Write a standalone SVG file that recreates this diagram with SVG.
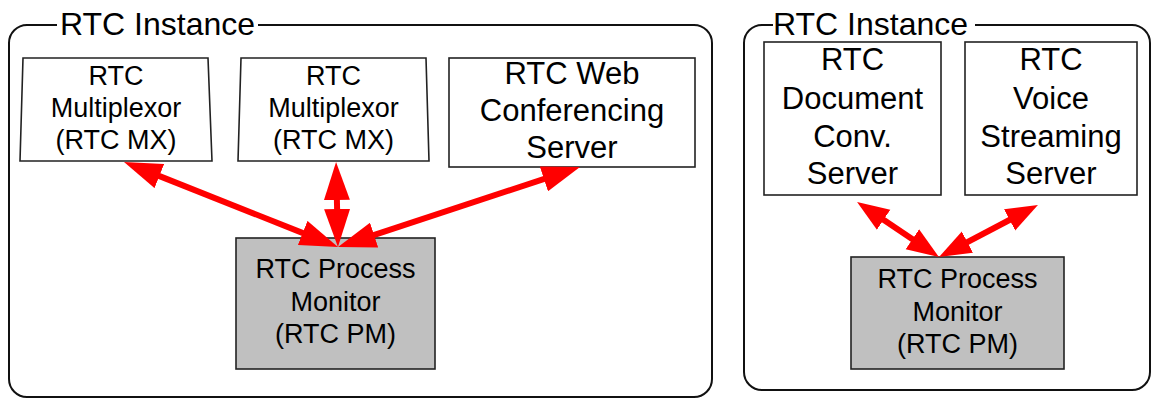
<svg xmlns="http://www.w3.org/2000/svg" width="1152" height="398" viewBox="0 0 1152 398">
<style>
.cont{fill:none;stroke:#111;stroke-width:2}
.box{fill:#fff;stroke:#222;stroke-width:1.6}
.pm{fill:#c0c0c0;stroke:#222;stroke-width:1.6}
.t{font-family:"Liberation Sans",Arial,sans-serif;fill:#000;text-anchor:middle}
.title{font-family:"Liberation Sans",Arial,sans-serif;font-size:32px;fill:#000}
.s27{font-size:27px}
.s31{font-size:31px}
.arr{fill:none;stroke:#ff0000;stroke-width:6}
.a1{marker-start:url(#headL);marker-end:url(#headL)}
.a2{marker-start:url(#headS);marker-end:url(#headS)}
</style>
<defs>
<marker id="headL" markerUnits="userSpaceOnUse" markerWidth="40" markerHeight="26" viewBox="0 0 40 26" refX="18" refY="13" orient="auto-start-reverse"><path d="M0,0 L38,13 L0,26 Z" fill="#ff0000"/></marker>
<marker id="headS" markerUnits="userSpaceOnUse" markerWidth="34" markerHeight="26" viewBox="0 0 34 26" refX="14" refY="13" orient="auto-start-reverse"><path d="M0,1 L32,13 L0,25 Z" fill="#ff0000"/></marker>
</defs>

<g id="instance1">
<path class="cont" d="M57,25 H27 A18,18 0 0 0 9,43 V379 A18,18 0 0 0 27,397 H694 A18,18 0 0 0 712,379 V43 A18,18 0 0 0 694,25 H258"/>
<text class="title" x="60" y="35">RTC Instance</text>
</g>
<g id="instance2">
<path class="cont" d="M773,25 H762 A18,18 0 0 0 744,43 V372 A18,18 0 0 0 762,390 H1132 A18,18 0 0 0 1150,372 V43 A18,18 0 0 0 1132,25 H975"/>
<text class="title" x="773" y="35">RTC Instance</text>
</g>

<g id="mx1">
<polygon class="box" points="23,58 208,58 212,161 20,161"/>
<text class="t s27" x="116" y="85">RTC</text>
<text class="t s27" x="116" y="117">Multiplexor</text>
<text class="t s27" x="116" y="149">(RTC MX)</text>
</g>
<g id="mx2">
<polygon class="box" points="241,58 426,58 429,161 238,161"/>
<text class="t s27" x="333.5" y="85">RTC</text>
<text class="t s27" x="333.5" y="117">Multiplexor</text>
<text class="t s27" x="333.5" y="149">(RTC MX)</text>
</g>
<g id="webconf">
<rect class="box" x="449" y="58" width="246" height="109"/>
<text class="t s31" x="572" y="84">RTC Web</text>
<text class="t s31" x="572" y="121">Conferencing</text>
<text class="t s31" x="572" y="158">Server</text>
</g>
<g id="pm1">
<rect class="pm" x="236" y="238" width="199" height="131"/>
<text class="t s27" x="335.5" y="278">RTC Process</text>
<text class="t s27" x="335.5" y="310.5">Monitor</text>
<text class="t s27" x="335.5" y="343">(RTC PM)</text>
</g>

<g id="docconv">
<rect class="box" x="764" y="42" width="177" height="153"/>
<text class="t s31" x="852.5" y="70">RTC</text>
<text class="t s31" x="852.5" y="109">Document</text>
<text class="t s31" x="852.5" y="147">Conv.</text>
<text class="t s31" x="852.5" y="184">Server</text>
</g>
<g id="voice">
<rect class="box" x="965" y="42" width="172" height="153"/>
<text class="t s31" x="1051" y="70">RTC</text>
<text class="t s31" x="1051" y="109">Voice</text>
<text class="t s31" x="1051" y="147">Streaming</text>
<text class="t s31" x="1051" y="184">Server</text>
</g>
<g id="pm2">
<rect class="pm" x="851" y="257" width="213" height="112"/>
<text class="t s27" x="957.5" y="288">RTC Process</text>
<text class="t s27" x="957.5" y="320.5">Monitor</text>
<text class="t s27" x="957.5" y="353">(RTC PM)</text>
</g>

<g id="connectors">
<line class="arr a1" x1="142.6" y1="169.4" x2="319.4" y2="239.6"/>
<line class="arr a1" x1="336.5" y1="182" x2="337.5" y2="227"/>
<line class="arr a1" x1="357" y1="240.7" x2="561" y2="173.3"/>
<line class="arr a2" x1="872" y1="212" x2="924" y2="247"/>
<line class="arr a2" x1="955" y1="248.6" x2="1022" y2="213.4"/>
</g>
</svg>
